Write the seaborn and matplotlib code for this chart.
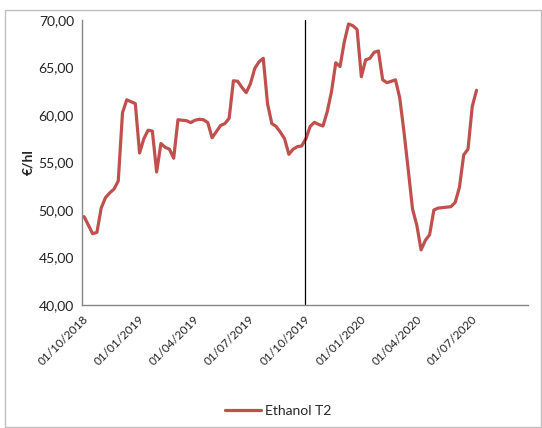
import matplotlib.pyplot as plt
import matplotlib.dates as mdates
import pandas as pd
import seaborn as sns
from matplotlib.patches import Rectangle
from matplotlib.ticker import FuncFormatter

# weekly prices, Ethanol T2 (EUR/hl)
START = '2018-10-04'
PRICES = [
    49.3, 48.4, 47.5, 47.65, 50.2, 51.3, 51.8, 52.2, 53.05, 60.25,
    61.6, 61.4, 61.2, 56.0, 57.5, 58.4, 58.3, 54.0, 57.0, 56.6,
    56.4, 55.45, 59.5, 59.45, 59.4, 59.2, 59.45, 59.55, 59.5, 59.2,
    57.6, 58.25, 58.9, 59.1, 59.65, 63.6, 63.55, 62.9, 62.35, 63.3,
    64.9, 65.6, 65.97, 61.2, 59.1, 58.8, 58.2, 57.5, 55.86, 56.4,
    56.67, 56.74, 57.5, 58.8, 59.23, 59.0, 58.84, 60.35, 62.46, 65.5,
    65.1, 67.7, 69.58, 69.4, 69.0, 64.03, 65.8, 65.97, 66.6, 66.74,
    63.7, 63.4, 63.55, 63.7, 61.8, 58.2, 54.2, 50.1, 48.4, 45.8,
    46.8, 47.4, 50.0, 50.2, 50.25, 50.3, 50.35, 50.8, 52.4, 55.8,
    56.4, 60.9, 62.6,
]
SERIES = 'Ethanol T2'
TICK_DATES = ['2018-10-01', '2019-01-01', '2019-04-01', '2019-07-01', '2019-10-01',
              '2020-01-01', '2020-04-01', '2020-07-01', '2020-10-01']
TICK_LABELS = ['01/10/2018', '01/01/2019', '01/04/2019', '01/07/2019', '01/10/2019',
               '01/01/2020', '01/04/2020', '01/07/2020', '']
MARKER_DATE = '2019-10-01'

df = pd.DataFrame({
    'date': pd.date_range(START, periods=len(PRICES), freq='7D'),
    'price': PRICES,
    'series': SERIES,
})

sns.set_style('white')
plt.rcParams['font.family'] = ['Lato', 'DejaVu Sans']

fig = plt.figure(figsize=(5.42, 4.28), dpi=100)
ax = fig.add_axes([82.3 / 542, 1 - 305 / 428, (527.7 - 82.3) / 542, 285 / 428])

sns.lineplot(data=df, x='date', y='price', hue='series', palette=['#C0504D'],
             linewidth=2.3, ax=ax)
ax.axvline(pd.Timestamp(MARKER_DATE), color='black', linewidth=0.9)

ax.set_xlim(pd.Timestamp(TICK_DATES[0]), pd.Timestamp(TICK_DATES[-1]))
ax.set_ylim(40, 70)
ax.set_yticks(range(40, 71, 5))
ax.yaxis.set_major_formatter(FuncFormatter(lambda v, p: f'{v:.2f}'.replace('.', ',')))

ax.set_xticks([pd.Timestamp(d) for d in TICK_DATES])
ax.set_xticklabels(TICK_LABELS, rotation=45, ha='right', rotation_mode='anchor')
ax.xaxis.set_minor_locator(mdates.MonthLocator())

grey = '#868686'
for s in ['top', 'right']:
    ax.spines[s].set_visible(False)
for s in ['left', 'bottom']:
    ax.spines[s].set_color(grey)
    ax.spines[s].set_linewidth(1)
ax.tick_params(axis='x', which='major', direction='inout', length=8, color=grey,
               labelsize=8.5, pad=2, labelcolor='#222222')
ax.tick_params(axis='x', which='minor', direction='in', length=3, color=grey)
ax.tick_params(axis='y', which='major', direction='inout', length=8, color=grey,
               labelsize=10, pad=2, labelcolor='#222222')

ax.set_xlabel('')
ax.set_ylabel('€/hl', fontsize=10, fontweight='bold', labelpad=3)

ax.legend(loc='center', bbox_to_anchor=(278 / 542, 1 - 411 / 428),
          bbox_transform=fig.transFigure, frameon=False, fontsize=10,
          handlelength=2.6, handletextpad=0.3)

fig.patches.append(Rectangle((5 / 542, 0.002), 535.5 / 542, 1 - 10 / 428 - 0.002,
                             transform=fig.transFigure, fill=False,
                             edgecolor='#BFBFBF', linewidth=1))

fig.savefig('out.png', dpi=100)
